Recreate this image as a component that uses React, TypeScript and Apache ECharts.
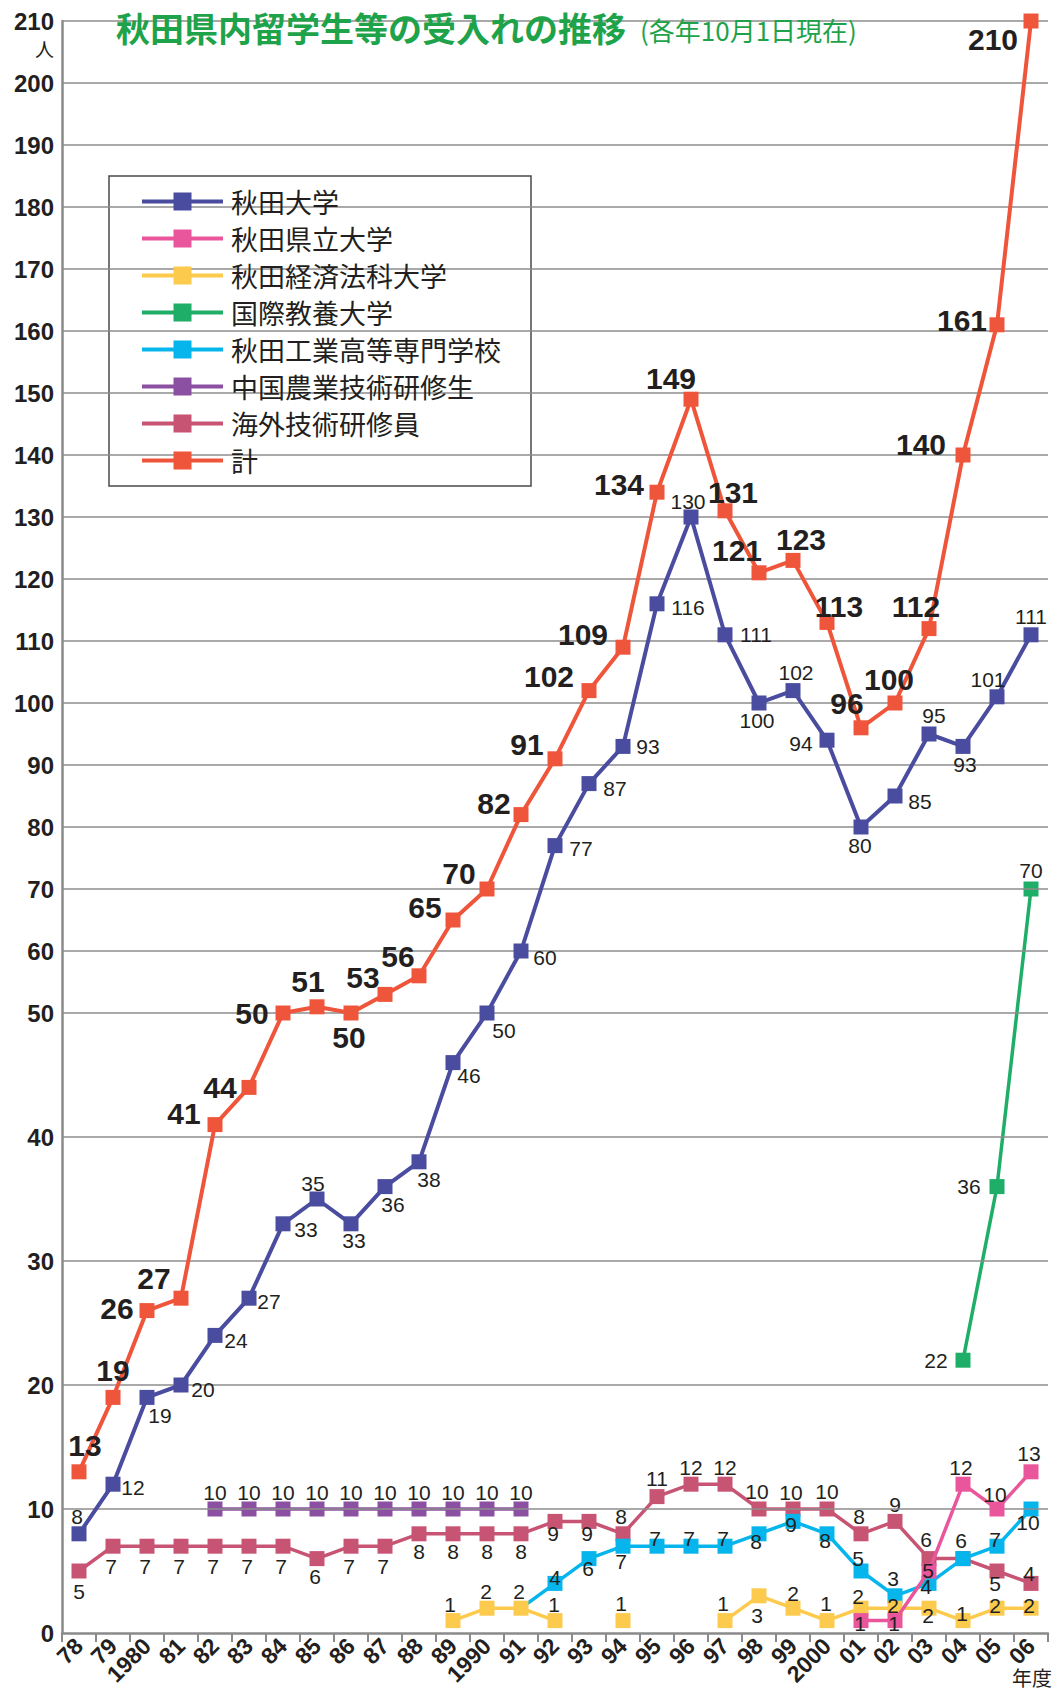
import React, { useEffect, useRef } from 'react';
import * as echarts from 'echarts';

// ---- data ----
const years = ['78', '79', '1980', '81', '82', '83', '84', '85', '86', '87', '88', '89', '1990', '91', '92', '93', '94', '95', '96', '97', '98', '99', '2000', '01', '02', '03', '04', '05', '06'];

const akitaUniv = [8, 12, 19, 20, 24, 27, 33, 35, 33, 36, 38, 46, 50, 60, 77, 87, 93, 116, 130, 111, 100, 102, 94, 80, 85, 95, 93, 101, 111];
const prefUniv = [null, null, null, null, null, null, null, null, null, null, null, null, null, null, null, null, null, null, null, null, null, null, null, 1, 1, 5, 12, 10, 13];
const keizaiUniv = [null, null, null, null, null, null, null, null, null, null, null, 1, 2, 2, 1, null, 1, null, null, 1, 3, 2, 1, 2, 2, 2, 1, 2, 2];
const aiuUniv = [null, null, null, null, null, null, null, null, null, null, null, null, null, null, null, null, null, null, null, null, null, null, null, null, null, null, 22, 36, 70];
const kosen = [null, null, null, null, null, null, null, null, null, null, null, null, null, 2, 4, 6, 7, 7, 7, 7, 8, 9, 8, 5, 3, 4, 6, 7, 10];
const chinaTrainee = [null, null, null, null, 10, 10, 10, 10, 10, 10, 10, 10, 10, 10, null, null, null, null, null, null, null, null, null, null, null, null, null, null, null];
const overseasTrainee = [5, 7, 7, 7, 7, 7, 7, 6, 7, 7, 8, 8, 8, 8, 9, 9, 8, 11, 12, 12, 10, 10, 10, 8, 9, 6, 6, 5, 4];
const total = [13, 19, 26, 27, 41, 44, 50, 51, 50, 53, 56, 65, 70, 82, 91, 102, 109, 134, 149, 131, 121, 123, 113, 96, 100, 112, 140, 161, 210];

// y tick values (real units)
const yTickValues = [0, 10, 20, 30, 40, 50, 60, 70, 80, 90, 100, 110, 120, 130, 140, 150, 160, 170, 180, 190, 200, 210];

// ---- label offsets (style, px) ----
const akitaOff = [[-2, -17], [20, 3], [13, 18], [22, 4], [21, 5], [20, 3], [23, 6], [-4, -16], [3, 17], [8, 18], [10, 18], [16, 13], [17, 17], [24, 6], [26, 3], [26, 5], [25, 0], [31, 4], [-3, -16], [31, 0], [-2, 17], [3, -18], [-26, 3], [-1, 18], [25, 5], [5, -19], [2, 18], [-9, -17], [0, -18]];
const prefOff: any[] = [];
prefOff[23] = [-1, 3]; prefOff[24] = [-1, 3]; prefOff[25] = [-1, -1]; prefOff[26] = [-2, -17]; prefOff[27] = [-2, -15]; prefOff[28] = [-2, -18];
const keizaiOff: any[] = [];
keizaiOff[11] = [-3, -16]; keizaiOff[12] = [-1, -17]; keizaiOff[13] = [-2, -17]; keizaiOff[14] = [-1, -16]; keizaiOff[16] = [-2, -17];
keizaiOff[19] = [-2, -17]; keizaiOff[20] = [-2, 20]; keizaiOff[21] = [0, -15]; keizaiOff[22] = [-1, -17]; keizaiOff[23] = [-3, -12];
keizaiOff[24] = [-2, -3]; keizaiOff[25] = [-1, 7]; keizaiOff[26] = [-1, -7]; keizaiOff[27] = [-2, -3]; keizaiOff[28] = [-2, -3];
const aiuOff: any[] = [];
aiuOff[26] = [-27, 0]; aiuOff[27] = [-28, 0]; aiuOff[28] = [0, -19];
const kosenOff: any[] = [];
kosenOff[14] = [0, -6]; kosenOff[15] = [-1, 10]; kosenOff[16] = [-2, 15]; kosenOff[17] = [-2, -8]; kosenOff[18] = [-2, -8]; kosenOff[19] = [-2, -8];
kosenOff[20] = [-3, 8]; kosenOff[21] = [-2, 3]; kosenOff[22] = [-2, 7]; kosenOff[23] = [-3, -13]; kosenOff[24] = [-2, -17]; kosenOff[25] = [-3, 3];
kosenOff[26] = [-2, -18]; kosenOff[27] = [-2, -7]; kosenOff[28] = [-3, 13];
const chinaOff = years.map(() => [0, -17]);
const overseasOff = [[0, 20], [-2, 20], [-2, 20], [-2, 20], [-2, 20], [-2, 20], [-2, 20], [-2, 18], [-2, 20], [-2, 20], [0, 18], [0, 18], [0, 18], [0, 18], [-2, 12], [-2, 12], [-2, -17], [0, -18], [0, -17], [0, -17], [-2, -18], [-2, -17], [0, -18], [-2, -17], [0, -17], [-3, -19], null, [-2, 12], [-2, -10]];
const totalOff = [[6, -26], [0, -27], [-30, -2], [-27, -20], [-31, -11], [-29, 0], [-31, 0], [-9, -25], [-2, 24], [-22, -17], [-21, -19], [-28, -13], [-28, -16], [-27, -11], [-28, -14], [-40, -14], [-40, -13], [-38, -8], [-20, -21], [8, -18], [-22, -22], [8, -21], [12, -16], [-14, -24], [-6, -24], [-13, -22], [-42, -11], [-35, -4], [-38, 18]];

// piecewise scale: 0-50 shown at double height
const toD = (v: number) => (v <= 50 ? v * 2 : 100 + (v - 50));
const fromD = (d: number) => (d <= 100 ? d / 2 : d - 50);

const FONT = '"Liberation Sans", Arial, sans-serif';
const JFONT = '"Noto Sans CJK JP", sans-serif';
const TXT = '#231f20';
// legend icon: line bar with a square marker in the middle
const LEGEND_ICON = 'path://M0,7 L81,7 L81,11 L0,11 Z M31.5,0 L49.5,0 L49.5,18 L31.5,18 Z';

function buildData(values: (number | null)[], offsets: any[], noSymbol: number[] = []) {
  return values.map((v, i) => {
    if (v == null) return '-';
    const off = offsets[i];
    const item: any = { value: toD(v) };
    if (noSymbol.includes(i)) item.symbol = 'none';
    item.label = off && !noSymbol.includes(i) ? { show: true, formatter: String(v), offset: off } : { show: false };
    return item;
  });
}

function mkSeries(name: string, color: string, values: (number | null)[], offsets: any[], opts: any = {}) {
  const big = !!opts.big;
  return {
    type: 'line',
    name,
    data: buildData(values, offsets, opts.noSymbol || []),
    symbol: 'rect',
    symbolSize: 15,
    showAllSymbol: true,
    connectNulls: false,
    z: opts.z || 2,
    lineStyle: { color, width: opts.width || 3.5 },
    itemStyle: { color },
    label: {
      show: true,
      position: ['50%', '50%'],
      align: 'center',
      verticalAlign: 'middle',
      color: TXT,
      fontFamily: FONT,
      fontSize: big ? 30 : 21,
      fontWeight: big ? 'bold' : 'normal',
      textBorderWidth: 0,
    },
    emphasis: { disabled: true },
  };
}

export default function App() {
  const ref = useRef<HTMLDivElement>(null);
  useEffect(() => {
    document.body.style.margin = '0';
    const chart = echarts.init(ref.current!, null, { renderer: 'svg' });
    const gridDs = yTickValues.filter((v) => v > 0).map((v) => ({ yAxis: toD(v) }));
    const names = ['秋田大学', '秋田県立大学', '秋田経済法科大学', '国際教養大学', '秋田工業高等専門学校', '中国農業技術研修生', '海外技術研修員', '計'];
    const option: any = {
      animation: false,
      backgroundColor: '#ffffff',
      grid: { left: 62, right: 7, top: 21, bottom: 60, containLabel: false },
      xAxis: {
        type: 'category',
        data: years,
        boundaryGap: true,
        axisLine: { lineStyle: { color: '#8a8a8a', width: 2.5 } },
        axisTick: { show: true, interval: 0, length: 9, lineStyle: { color: '#8a8a8a', width: 2 } },
        axisLabel: { interval: 0, rotate: 45, margin: 9, fontSize: 23, fontWeight: 'bold', fontFamily: FONT, color: TXT },
        splitLine: { show: false },
      },
      yAxis: {
        type: 'value',
        min: 0,
        max: toD(210),
        interval: 10,
        axisLine: { show: true, lineStyle: { color: '#8a8a8a', width: 2.5 } },
        axisTick: { show: false },
        splitLine: { show: false },
        axisLabel: {
          margin: 8,
          fontSize: 24,
          fontWeight: 'bold',
          fontFamily: FONT,
          color: TXT,
          formatter: (d: number) => {
            const v = fromD(d);
            return yTickValues.includes(v) ? String(v) : '';
          },
        },
      },
      legend: {
        data: names.map((n) => ({ name: n, icon: LEGEND_ICON })),
        orient: 'vertical',
        left: 142,
        top: 188,
        padding: 0,
        itemWidth: 81,
        itemHeight: 18,
        itemGap: 10,
        selectedMode: false,
        z: 10,
        textStyle: { fontSize: 27, color: TXT, fontFamily: JFONT, padding: [0, 0, 0, 3] },
      },
      graphic: [
        { type: 'rect', z: 5, shape: { x: 109, y: 176, width: 422, height: 310 }, style: { fill: '#ffffff', stroke: '#4a4a4a', lineWidth: 1.5 } },
        { type: 'rect', z: 5, shape: { x: 98, y: 4, width: 790, height: 40 }, style: { fill: '#ffffff' } },
        { type: 'text', z: 6, x: 116, y: 27, style: { text: '秋田県内留学生等の受入れの推移', fontSize: 34, fontWeight: 'bold', fill: '#1ea34a', fontFamily: JFONT, verticalAlign: 'middle' } },
        { type: 'text', z: 6, x: 640, y: 29, style: { text: '(各年10月1日現在)', fontSize: 26, fill: '#1ea34a', fontFamily: JFONT, verticalAlign: 'middle' } },
        { type: 'text', z: 6, x: 54, y: 48, style: { text: '人', fontSize: 19, fill: TXT, fontFamily: JFONT, align: 'right', verticalAlign: 'middle' } },
        { type: 'text', z: 6, x: 1052, y: 1677, style: { text: '年度', fontSize: 20, fill: TXT, fontFamily: JFONT, align: 'right', verticalAlign: 'middle' } },
      ],
      series: [
        {
          type: 'line',
          name: 'grid',
          data: years.map(() => '-'),
          symbol: 'none',
          z: 1,
          silent: true,
          markLine: {
            silent: true,
            symbol: ['none', 'none'],
            label: { show: false },
            lineStyle: { color: '#8d8d8d', width: 1.6, type: 'solid' },
            emphasis: { disabled: true },
            data: gridDs,
          },
        },
        mkSeries('秋田大学', '#4a4c9f', akitaUniv, akitaOff, { width: 4, z: 6 }),
        mkSeries('秋田県立大学', '#e9569b', prefUniv, prefOff, { z: 5 }),
        mkSeries('秋田経済法科大学', '#fcca4d', keizaiUniv, keizaiOff, { z: 4 }),
        mkSeries('国際教養大学', '#1fae68', aiuUniv, aiuOff, { z: 3 }),
        mkSeries('秋田工業高等専門学校', '#06b5ec', kosen, kosenOff, { z: 3, noSymbol: [13] }),
        mkSeries('中国農業技術研修生', '#8b50a1', chinaTrainee, chinaOff, { z: 2 }),
        mkSeries('海外技術研修員', '#c85474', overseasTrainee, overseasOff, { z: 2 }),
        mkSeries('計', '#ef553a', total, totalOff, { width: 4, z: 7, big: true }),
      ],
    };
    chart.setOption(option);
    return () => chart.dispose();
  }, []);
  return <div ref={ref} style={{ width: 1055, height: 1693 }} />;
}
